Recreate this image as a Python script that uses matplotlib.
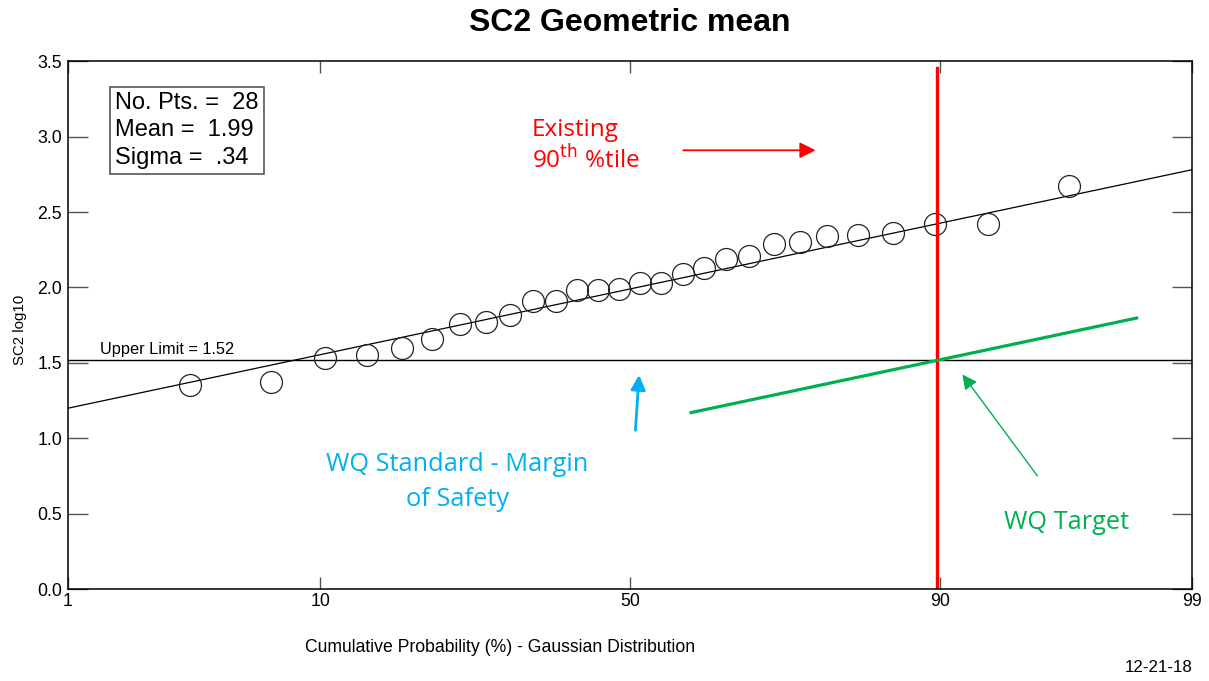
import numpy as np
import matplotlib.pyplot as plt
from statistics import NormalDist

plt.rcParams['font.family'] = 'Liberation Sans'

# data (log10 values, sorted)
sc2_log10 = [1.35, 1.37, 1.53, 1.55, 1.60, 1.66, 1.76, 1.77, 1.82, 1.91,
             1.91, 1.98, 1.98, 1.99, 2.03, 2.03, 2.09, 2.13, 2.19, 2.21,
             2.29, 2.30, 2.34, 2.35, 2.36, 2.42, 2.42, 2.67]
mean_log = 1.99
sigma_log = 0.34
upper_limit = 1.52
existing_pct = 89.8          # red line (existing 90th percentile)
target_pct = [60, 98.2]      # extent of the WQ target line
x_tick_pct = [1, 10, 50, 90, 99]
y_ticks = [0.0, 0.5, 1.0, 1.5, 2.0, 2.5, 3.0, 3.5]

nd = NormalDist()


def zq(p):
    # percent -> gaussian quantile
    return nd.inv_cdf(p / 100.0)


n_pts = len(sc2_log10)
plot_pos = [100.0 * (i + 1) / (n_pts + 1) for i in range(n_pts)]
xs = [zq(p) for p in plot_pos]

fig = plt.figure(figsize=(12.09, 6.81), dpi=100)
ax = fig.add_axes([0.056, 0.135, 0.930, 0.775])
xlim = (zq(1), zq(99))
ax.set_xlim(xlim)
ax.set_ylim(0, 3.5)

# fitted line, upper limit, points
ax.plot(xlim, [mean_log + sigma_log * v for v in xlim], color='black', lw=0.9)
ax.axhline(upper_limit, color='black', lw=1.0)
ax.plot(xs, sc2_log10, 'o', mfc='none', mec='#222222', ms=15.8, mew=0.9)

# existing 90th percentile
ax.axvline(zq(existing_pct), ymin=0, ymax=0.988, color='red', lw=2.4)

# WQ target line
gz = [zq(p) for p in target_pct]
gy = [upper_limit + sigma_log * (g - zq(90)) for g in gz]
ax.plot(gz, gy, color='#00B050', lw=2.3)

# axes styling
ax.set_xticks([zq(p) for p in x_tick_pct])
ax.set_xticklabels([str(p) for p in x_tick_pct])
ax.set_yticks(y_ticks)
ax.set_yticklabels([f"{v:.1f}" for v in y_ticks])
ax.tick_params(axis='y', direction='in', length=14.4, width=1, color='#555555',
               left=True, right=True, labelsize=12.8, pad=4)
ax.tick_params(axis='x', direction='in', length=8.6, width=1, color='#555555',
               top=True, bottom=True, labelsize=12.8, pad=3)
for sp in ax.spines.values():
    sp.set_linewidth(1.1)

# texts
fig.text(630 / 1209, 1 - 23 / 681, 'SC2 Geometric mean', ha='center', va='center',
         fontsize=23, fontweight='bold')
fig.text(20 / 1209, 1 - 330 / 681, 'SC2 log10', rotation=90, ha='center',
         va='center', fontsize=10.8)
fig.text(500 / 1209, 1 - 648 / 681, 'Cumulative Probability (%) - Gaussian Distribution',
         ha='center', va='center', fontsize=12.7)
fig.text(1193 / 1209, 1 - 667 / 681, '12-21-18', ha='right', va='center', fontsize=12.2)

ax.text(0.029, upper_limit + 0.02, f'Upper Limit = {upper_limit:.2f}',
        transform=ax.get_yaxis_transform(), fontsize=11.8, va='bottom')

stats = (f"No. Pts. =  {n_pts}\nMean =  {mean_log:.2f}\n"
         f"Sigma =  {f'{sigma_log:.2f}'.lstrip('0')}")
ax.text(0.042, 0.942, stats, transform=ax.transAxes, va='top', ha='left',
        fontsize=17, linespacing=1.32,
        bbox=dict(boxstyle='square,pad=0.22', fc='white', ec='#555555', lw=1.2))

# annotations
afont = 'Open Sans'
ax.text(-0.406, 3.043, 'Existing', color='red', fontsize=17.5, family=afont,
        ha='left', va='center')
ax.text(-0.406, 2.844, r'90$^{\mathrm{th}}$ %tile', color='red', fontsize=17.5,
        family=afont, ha='left', va='center')
ax.annotate('', xy=(0.78, 2.91), xytext=(0.209, 2.91),
            arrowprops=dict(arrowstyle='-|>', color='red', lw=1.3, mutation_scale=24))

ax.text(-0.714, 0.71, 'WQ Standard - Margin\nof Safety', color='#00B0F0',
        fontsize=18.3, family=afont, ha='center', va='center',
        multialignment='center', linespacing=1.55)
ax.annotate('', xy=(0.039, 1.438), xytext=(0.022, 1.034),
            arrowprops=dict(arrowstyle='-|>', color='#00B0F0', lw=2, mutation_scale=22))

ax.text(1.809, 0.444, 'WQ Target', color='#00B050', fontsize=18.3, family=afont,
        ha='center', va='center')
ax.annotate('', xy=(1.369, 1.438), xytext=(1.693, 0.736),
            arrowprops=dict(arrowstyle='-|>', color='#00B050', lw=1, mutation_scale=22))

fig.savefig('out.png', dpi=100)
